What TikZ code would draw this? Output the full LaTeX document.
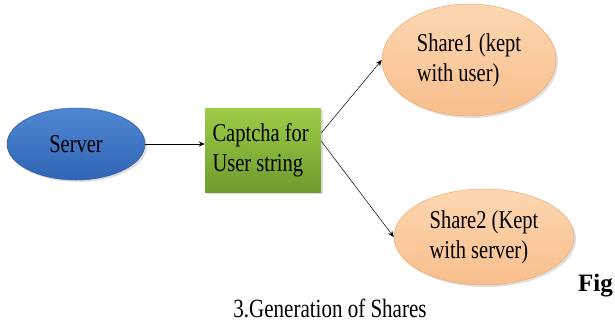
\documentclass[tikz,border=0pt]{standalone}
\usepackage{fontspec}
\setmainfont{Liberation Serif}
\usetikzlibrary{shapes.geometric,arrows.meta,shadows}
\newcommand\tallt[1]{\scalebox{1}[1.25]{#1}}
\tikzset{
  base/.style={inner sep=0pt, font=\fontsize{20.5}{24}\selectfont, text=black,
    drop shadow={opacity=0.25, shadow xshift=2pt, shadow yshift=-2pt}},
  bluell/.style={base, ellipse, draw={rgb,255:red,50;green,95;blue,165}, line width=0.5pt,
    top color={rgb,255:red,80;green,135;blue,210}, bottom color={rgb,255:red,48;green,100;blue,180},
    minimum width=138pt, minimum height=72pt},
  peachell/.style={base, ellipse, draw={rgb,255:red,240;green,170;blue,110}, line width=0.5pt,
    top color={rgb,255:red,252;green,215;blue,178}, bottom color={rgb,255:red,248;green,190;blue,140}},
  greenbox/.style={base, rectangle, draw=none,
    top color={rgb,255:red,158;green,204;blue,70}, bottom color={rgb,255:red,110;green,155;blue,45},
    minimum width=116pt, minimum height=84pt},
  conn/.style={-{Stealth[length=6pt,width=5pt]}, line width=0.5pt, black}
}
\begin{document}
\begin{tikzpicture}[x=1pt,y=-1pt]
\useasboundingbox (0,0) rectangle (615,325);
\node[bluell] (server) at (76,144) {\tallt{Server}};
\node[greenbox] (box) at (263,150) {};
\node[anchor=west, font=\fontsize{20.5}{24}\selectfont] (boxt) at (209,150)
  {\tallt{\begin{tabular}{@{}l@{}}Captcha for\\User string\end{tabular}}};
\node[peachell, minimum width=174pt, minimum height=112pt] (share1) at (469,60)
  {\tallt{\begin{tabular}{@{}l@{}}Share1 (kept\\with user)\end{tabular}}};
\node[peachell, minimum width=180pt, minimum height=96pt] (share2) at (484,237)
  {\tallt{\begin{tabular}{@{}l@{}}Share2 (Kept\\with server)\end{tabular}}};
\draw[conn] (server.east) -- (box.west |- server.east);
\draw[conn] ([yshift=17pt]box.east) -- (share1.west);
\draw[conn] ([yshift=9pt]box.east) -- (share2.west);
\node[anchor=base west, font=\fontsize{25}{30}\bfseries, inner sep=0pt] (fig) at (578,291) {Fig};
\node[anchor=base, font=\fontsize{21}{25}\selectfont, inner sep=0pt] (cap) at (330,317) {\tallt{3.Generation of Shares}};
\end{tikzpicture}
\end{document}
